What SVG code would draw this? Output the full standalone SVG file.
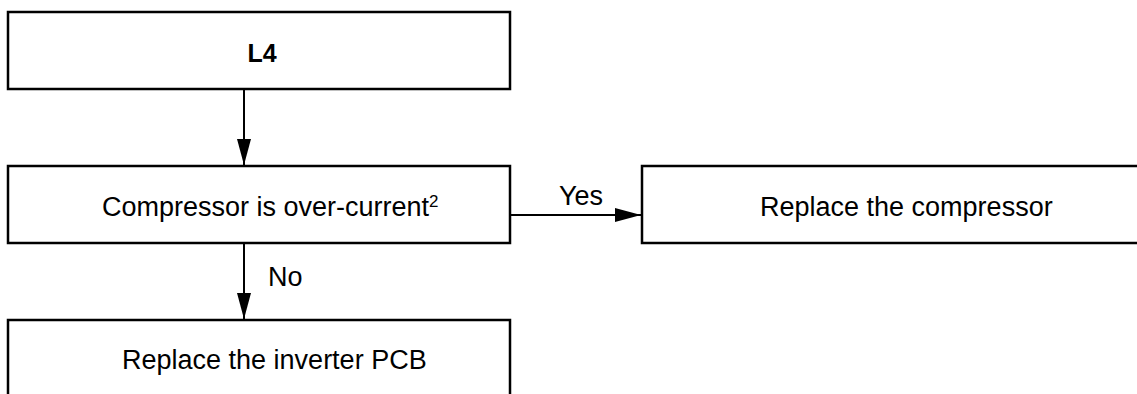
<svg xmlns="http://www.w3.org/2000/svg" width="1137" height="394" viewBox="0 0 1137 394">
<style>
.box{fill:#fff;stroke:#000;stroke-width:2.5}
.t{font-family:"Liberation Sans",Arial,sans-serif;font-size:27px;fill:#000}
.b{font-weight:bold;font-size:25px}
.c{stroke:#000;stroke-width:2;fill:none}
</style>
<defs>
<marker id="ah" markerWidth="26" markerHeight="14" refX="26" refY="7" orient="auto" markerUnits="userSpaceOnUse">
<path d="M0,0 L26,7 L0,14 Z" fill="#000"/>
</marker>
</defs>
<rect width="1137" height="394" fill="#fff"/>
<g id="connectors">
<line class="c" x1="244" y1="89" x2="244" y2="165" marker-end="url(#ah)"/>
<line class="c" x1="510" y1="215" x2="641" y2="215" marker-end="url(#ah)"/>
<line class="c" x1="244" y1="243" x2="244" y2="319" marker-end="url(#ah)"/>
<text class="t" x="581" y="205" text-anchor="middle">Yes</text>
<text class="t" x="268" y="286">No</text>
</g>
<g id="n_l4">
<rect class="box" x="8" y="12" width="502" height="77"/>
<text class="t b" x="262" y="62" text-anchor="middle">L4</text>
</g>
<g id="n_comp">
<rect class="box" x="8" y="166" width="502" height="77"/>
<text class="t" x="102" y="216">Compressor is over-current<tspan font-size="17" dy="-9">2</tspan></text>
</g>
<g id="n_replace_comp">
<rect class="box" x="642" y="166" width="502" height="77"/>
<text class="t" x="760" y="216">Replace the compressor</text>
</g>
<g id="n_replace_pcb">
<rect class="box" x="8" y="320" width="502" height="77"/>
<text class="t" x="122" y="369">Replace the inverter PCB</text>
</g>
</svg>
